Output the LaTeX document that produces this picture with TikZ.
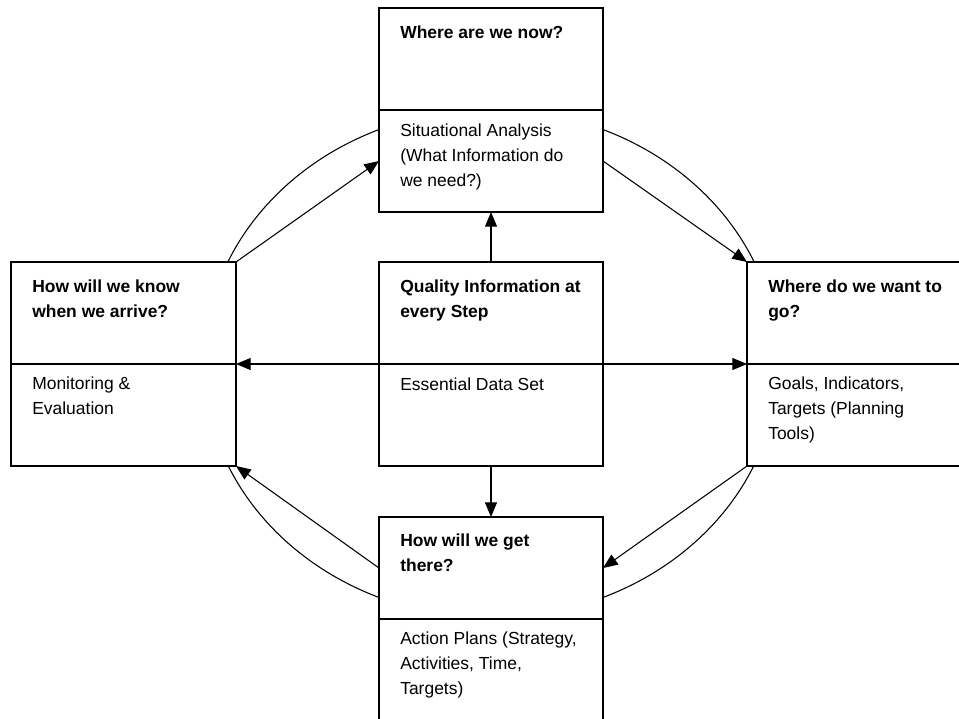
\documentclass[tikz,border=0pt]{standalone}
\usepackage{fontspec}
\setmainfont{Liberation Sans}
\usetikzlibrary{arrows.meta,calc}
\begin{document}
\begin{tikzpicture}[x=0.75pt,y=-0.75pt,
  half/.style={draw,fill=white,line width=0.8pt,minimum width=168pt,minimum height=76.5pt,inner sep=0pt,outer sep=0pt,anchor=north west},
  lbl/.style={anchor=base west,align=left,inner sep=0pt,font=\fontsize{13.1}{18.4}\selectfont},
  hd/.style={anchor=base west,align=left,inner sep=0pt,font=\fontsize{13.1}{18.4}\selectfont\bfseries},
  arr/.style={line width=0.8pt,-{Triangle[length=11pt,width=9pt]}},
  biarr/.style={line width=0.8pt,{Triangle[length=11pt,width=9pt]}-{Triangle[length=11pt,width=9pt]}},
  ring/.style={line width=0.8pt}]
\useasboundingbox (0,0) rectangle (959,718);
\clip (0,0) rectangle (959,718);
\draw[ring] (491,363.5) ellipse [x radius=215.25pt, y radius=190.5pt];
\node[half] (tu) at (379,8) {};
\node[half] (tl) at (379,110) {};
\node[half,minimum width=168.75pt] (lu) at (11,262) {};
\node[half,minimum width=168.75pt] (ll) at (11,364) {};
\node[half] (cu) at (379,262) {};
\node[half] (cl) at (379,364) {};
\node[half] (ru) at (747,262) {};
\node[half] (rl) at (747,364) {};
\node[half] (bu) at (379,517) {};
\node[half] (bl) at (379,619) {};
% texts (anchor base = baseline of the last line)
\node[hd] (t1) at ($(tu.north west)+(21,30)$) {Where are we now?};
\node[lbl] (t2) at ($(tl.north west)+(21,76)$) {Situational Analysis\\(What Information do\\we need?)};
\node[hd] (l1) at ($(lu.north west)+(21,55.5)$) {How will we know\\when we arrive?};
\node[lbl] (l2) at ($(ll.north west)+(21,50.5)$) {Monitoring \&\\Evaluation};
\node[hd] (c1) at ($(cu.north west)+(21,55.5)$) {Quality Information at\\every Step};
\node[lbl] (c2) at ($(cl.north west)+(21,26)$) {Essential Data Set};
\node[hd] (r1) at ($(ru.north west)+(21,55.5)$) {Where do we want to\\go?};
\node[lbl] (r2) at ($(rl.north west)+(21,75)$) {Goals, Indicators,\\Targets (Planning\\Tools)};
\node[hd] (b1) at ($(bu.north west)+(21,54.5)$) {How will we get\\there?};
\node[lbl] (b2) at ($(bl.north west)+(21,75)$) {Action Plans (Strategy,\\Activities, Time,\\Targets)};
% arrows
\draw[arr] (lu.north east) -- (tl.west);
\draw[arr] (tl.east) -- (ru.north west);
\draw[arr] (rl.south west) -- (bu.east);
\draw[arr] (bu.west) -- (ll.south east);
\draw[arr] (cu.north) -- (tl.south);
\draw[arr] (cl.south) -- (bu.north);
\draw[biarr] (lu.south east) -- (ru.south west);
\end{tikzpicture}
\end{document}
